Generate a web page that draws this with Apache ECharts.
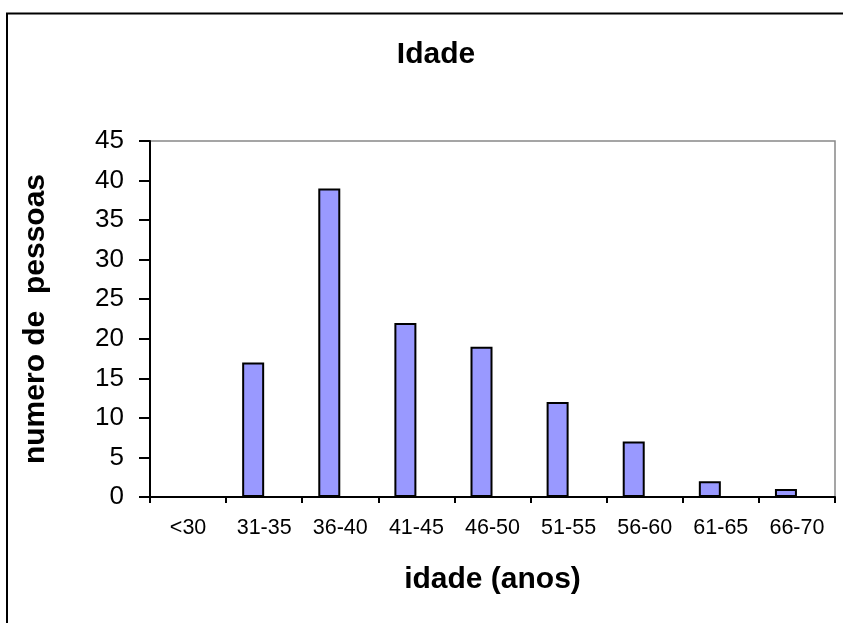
<!DOCTYPE html>
<html>
<head>
<meta charset="utf-8">
<script src="https://cdn.jsdelivr.net/npm/echarts@6/dist/echarts.min.js"></script>
<style>
html, body { margin: 0; padding: 0; background: #fff; }
#chart { width: 843px; height: 623px; }
</style>
</head>
<body>
<div id="chart"></div>
<script>
// faixas etarias e contagem de pessoas
var faixas = ["<30", "31-35", "36-40", "41-45", "46-50", "51-55", "56-60", "61-65", "66-70"];
var pessoas = [0, 17, 39, 22, 19, 12, 7, 2, 1];
var yTicks = [0, 5, 10, 15, 20, 25, 30, 35, 40, 45];

var chart = echarts.init(document.getElementById("chart"));
var fonte = "'Liberation Sans', Arial, sans-serif";

// barras de valor zero ficam sem contorno (como no original)
var barras = pessoas.map(function (v) {
    return v === 0 ? { value: v, itemStyle: { borderWidth: 0 } } : v;
});

var option = {
    animation: false,
    backgroundColor: "#fff",
    graphic: [{
        type: "rect",
        shape: { x: 7, y: 13.5, width: 900, height: 700 },
        style: { fill: "none", stroke: "#000", lineWidth: 2 }
    }],
    title: {
        text: "Idade",
        left: 431,
        top: 35,
        textAlign: "center",
        textStyle: { fontFamily: fonte, fontSize: 30, fontWeight: "bold", color: "#000" }
    },
    grid: {
        left: 150, right: 8, top: 141, bottom: 126,
        show: true,
        borderColor: "#888",
        borderWidth: 1.5
    },
    xAxis: {
        type: "category",
        data: faixas,
        name: "idade (anos)",
        nameLocation: "middle",
        nameGap: 68,
        nameTextStyle: { fontFamily: fonte, fontSize: 30, fontWeight: "bold", color: "#000" },
        axisLine: { lineStyle: { color: "#000", width: 2 } },
        axisTick: { show: true, length: 6, lineStyle: { color: "#000", width: 2 } },
        axisLabel: { fontFamily: fonte, fontSize: 21.5, color: "#000", margin: 20, interval: 0 },
        splitLine: { show: false }
    },
    yAxis: {
        type: "value",
        min: yTicks[0],
        max: yTicks[yTicks.length - 1],
        interval: 5,
        name: "numero de  pessoas",
        nameLocation: "middle",
        nameGap: 99,
        nameRotate: 90,
        nameTextStyle: { fontFamily: fonte, fontSize: 30, fontWeight: "bold", color: "#000" },
        axisLine: { show: true, lineStyle: { color: "#000", width: 2 } },
        axisTick: { show: true, length: 11, lineStyle: { color: "#000", width: 2 } },
        axisLabel: { fontFamily: fonte, fontSize: 26, color: "#000", margin: 26 },
        splitLine: { show: false }
    },
    series: [{
        name: "pessoas",
        type: "bar",
        data: barras,
        barWidth: 22,
        barGap: "0%",
        itemStyle: { color: "#9999FF", borderColor: "#000", borderWidth: 2 }
    }, {
        // serie vazia (ocupa o lugar ao lado, como no original)
        name: "vazio",
        type: "bar",
        data: [],
        barWidth: 22
    }]
};
chart.setOption(option);
</script>
</body>
</html>
